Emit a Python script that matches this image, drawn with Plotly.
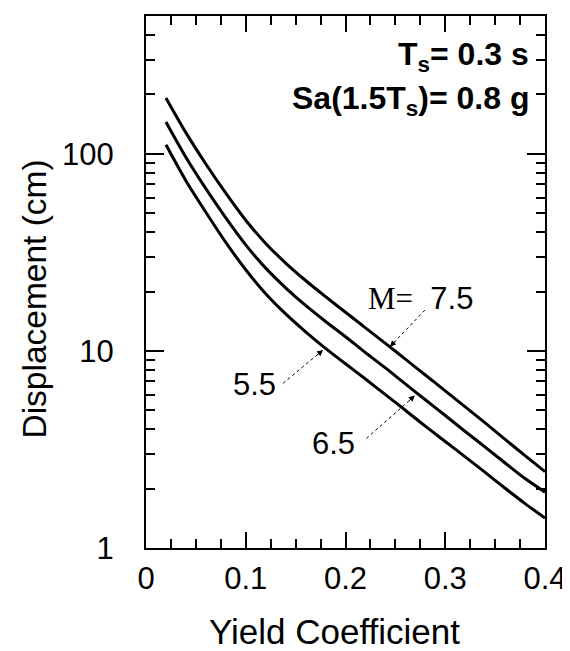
import plotly.graph_objects as go
import math

# Data
yield_coef = [0.02, 0.04, 0.06, 0.08, 0.10, 0.12, 0.14, 0.16, 0.18, 0.20,
              0.22, 0.24, 0.26, 0.28, 0.30, 0.32, 0.34, 0.36, 0.38, 0.40]
disp_m75 = [192, 128, 88.7, 63.1, 46, 35.1, 27.9, 22.75, 18.84, 15.7,
            13.09, 10.91, 9.08, 7.55, 6.27, 5.2, 4.31, 3.56, 2.94, 2.44]
disp_m65 = [145, 96, 66.5, 47.3, 34.5, 26.3, 20.9, 17.0, 14.1, 11.8,
            9.8, 8.2, 6.8, 5.65, 4.7, 3.9, 3.25, 2.7, 2.25, 1.92]
disp_m55 = [111, 73, 50.5, 35.5, 25.8, 19.5, 15.4, 12.5, 10.3, 8.6,
            7.2, 6.0, 5.0, 4.15, 3.47, 2.9, 2.42, 2.01, 1.68, 1.42]

y_tickvals = [1, 10, 100, 500]
y_ticktext = ["1", "10", "100", "500"]
y_minor = [2, 3, 4, 5, 6, 7, 8, 9, 20, 30, 40, 50, 60, 70, 80, 90, 200, 300, 400]
x_tickvals = [0, 0.1, 0.2, 0.3, 0.4]
x_ticktext = ["0", "0.1", "0.2", "0.3", "0.4"]

FONT = "Liberation Sans, Arial, sans-serif"

fig = go.Figure()
for ys in (disp_m75, disp_m65, disp_m55):
    fig.add_trace(go.Scatter(x=yield_coef, y=ys, mode="lines",
                             line=dict(color="black", width=3, shape="spline", smoothing=0.8),
                             showlegend=False, hoverinfo="skip"))

# leader lines (label -> curve)
leaders = [
    ((0.2796, 16.1), (0.2445, 10.5), (7, -7)),
    ((0.221, 3.60), (0.2696, 5.93), (-7.5, 6.6)),
    ((0.1374, 6.85), (0.1775, 10.1), (-7.7, 6.4)),
]
annotations = []
for (x0, y0), (x1, y1), (ax, ay) in leaders:
    fig.add_trace(go.Scatter(x=[x0, x1], y=[y0, y1], mode="lines",
                             line=dict(color="black", width=1, dash="dot"),
                             showlegend=False, hoverinfo="skip"))
    annotations.append(dict(x=x1, y=math.log10(y1), xref="x", yref="y", text="",
                            showarrow=True, arrowhead=2, arrowsize=1.2, arrowwidth=1,
                            arrowcolor="black", ax=ax, ay=ay))

lab_font = dict(family=FONT, size=31, color="black")
annotations += [
    dict(x=0.2756, y=1.268, xref="x", yref="y", showarrow=False, xanchor="center", yanchor="middle",
         text='<span style="font-family:Liberation Serif, Times New Roman, serif">M=</span>&nbsp; 7.5',
         font=lab_font),
    dict(x=0.1876, y=0.531, xref="x", yref="y", showarrow=False, xanchor="center", yanchor="middle",
         text="6.5", font=lab_font),
    dict(x=0.109, y=0.827, xref="x", yref="y", showarrow=False, xanchor="center", yanchor="middle",
         text="5.5", font=lab_font),
    dict(x=0.966, y=0.923, xref="paper", yref="paper", xanchor="right", yanchor="middle",
         showarrow=False, text="<b>T<sub>s</sub>= 0.3 s</b>",
         font=dict(family=FONT, size=32, color="black")),
    dict(x=0.966, y=0.842, xref="paper", yref="paper", xanchor="right", yanchor="middle",
         showarrow=False, text="<b>Sa(1.5T<sub>s</sub>)= 0.8 g</b>",
         font=dict(family=FONT, size=32, color="black")),
    dict(x=-0.2794, y=0.468, xref="paper", yref="paper", textangle=-90, showarrow=False,
         xanchor="center", yanchor="middle",
         text="Displacement (cm)", font=dict(family=FONT, size=33.5, color="black")),
    dict(x=0.473, y=-0.157, xref="paper", yref="paper", showarrow=False,
         xanchor="center", yanchor="middle",
         text="Yield Coefficient", font=dict(family=FONT, size=35, color="black")),
    dict(x=-0.162, y=-0.186, xref="paper", yref="paper", showarrow=False,
         xanchor="left", yanchor="top",
         text="(c)", font=dict(family=FONT, size=31, color="black")),
]

# the page body adds an 8px offset; the figure is sized to fit the 570x651 window
fig.update_layout(
    width=562, height=643,
    margin=dict(l=138, r=25, t=8, b=103, pad=0),
    paper_bgcolor="white", plot_bgcolor="white",
    annotations=annotations,
    font=dict(family=FONT, color="black"),
)
fig.update_xaxes(range=[0, 0.4], tickvals=x_tickvals, ticktext=x_ticktext, automargin=False,
                 ticks="inside", ticklen=16, tickwidth=1.5, tickcolor="black",
                 showline=True, linecolor="black", linewidth=2, mirror="ticks",
                 showgrid=False, zeroline=False,
                 tickfont=dict(family=FONT, size=31, color="black"),
                 ticklabelstandoff=2,
                 minor=dict(ticks="inside", ticklen=9, dtick=0.025, tickcolor="black", tickwidth=1.5))
fig.update_yaxes(type="log", range=[0, math.log10(500)], tickvals=y_tickvals, ticktext=y_ticktext,
                 automargin=False,
                 ticks="inside", ticklen=18, tickwidth=1.5, tickcolor="black",
                 showline=True, linecolor="black", linewidth=2, mirror="ticks",
                 showgrid=False, zeroline=False,
                 tickfont=dict(family=FONT, size=31, color="black"),
                 ticklabelstandoff=24,
                 minor=dict(ticks="inside", ticklen=9, tickvals=y_minor, tickcolor="black", tickwidth=1.5))

fig.write_html("out.html")
